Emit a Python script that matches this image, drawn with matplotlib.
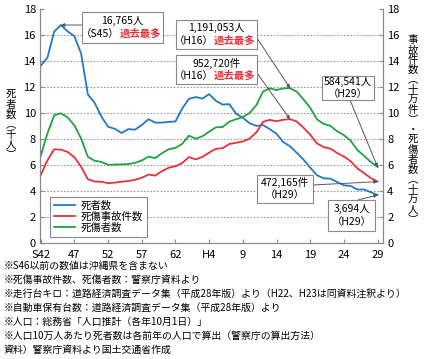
import matplotlib
matplotlib.use("Agg")
import matplotlib.pyplot as plt
from matplotlib.patches import Rectangle

plt.rcParams['font.family'] = ['Noto Sans CJK JP', 'DejaVu Sans']

# data (S42=1967 .. H29=2017)
years = list(range(1967, 2018))
deaths = [13618, 14256, 16257, 16765, 16278, 15918, 14574, 11432, 10792, 9734,
          8945, 8783, 8466, 8760, 8719, 9073, 9520, 9262, 9261, 9317,
          9347, 10344, 11086, 11227, 11109, 11452, 10942, 10649, 10684, 9942,
          9640, 9211, 9006, 9073, 8757, 8396, 7768, 7436, 6937, 6415,
          5796, 5209, 4979, 4948, 4691, 4438, 4388, 4113, 4117, 3904, 3694]
accidents = [521481, 635056, 720880, 718080, 700290, 659283, 586713, 490452, 472938, 471041,
             460649, 464037, 471573, 476677, 485578, 502261, 526362, 518642, 552788, 579190,
             590723, 614481, 661363, 643097, 662392, 695345, 724678, 729461, 761794, 771085,
             780401, 803878, 850371, 931950, 947253, 936950, 948281, 952720, 934346, 887267,
             832704, 766394, 737637, 725924, 692084, 665157, 629033, 573842, 536899, 499201, 472165]
casualties = [668995, 842327, 983257, 997861, 965967, 905116, 804522, 662852, 633259, 623691,
              602156, 602899, 604748, 607479, 616065, 635265, 664342, 653583, 690607, 721647,
              731526, 763189, 825918, 801522, 821354, 855455, 889575, 892372, 933361, 952146,
              968565, 999886, 1059405, 1164770, 1189796, 1176425, 1189449, 1191053, 1164050, 1104979,
              1040448, 950912, 916194, 901245, 859304, 829834, 785880, 715487, 670140, 622757, 584541]

tick_years = [1967, 1972, 1977, 1982, 1987, 1992, 1997, 2002, 2007, 2012, 2017]
tick_labels = ["S42", "47", "52", "57", "62", "H4", "9", "14", "19", "24", "29"]

notes = [
    "※S46以前の数値は沖縄県を含まない",
    "※死傷事故件数、死傷者数：警察庁資料より",
    "※走行台キロ：道路経済調査データ集（平成28年版）より（H22、H23は同資料注釈より）",
    "※自動車保有台数：道路経済調査データ集（平成28年版）より",
    "※人口：総務省「人口推計（各年10月1日）」",
    "※人口10万人あたり死者数は各前年の人口で算出（警察庁の算出方法）",
    "資料）警察庁資料より国土交通省作成",
]

BLUE = "#2378c3"
RED = "#e8303a"
GREEN = "#1fa33f"
GRAY = "#888888"

W, H = 424, 359
fig = plt.figure(figsize=(W / 100, H / 100), dpi=100)


def fx(px):
    return px / W


def fy(py):
    return 1 - py / H


ax = fig.add_axes([fx(40), fy(243), (383 - 40) / W, (243 - 9) / H])
ax2 = ax.twinx()

ax.plot(years, [d / 1000 for d in deaths], color=BLUE, lw=1.3, label="死者数")
ax2.plot(years, [a / 100000 for a in accidents], color=RED, lw=1.3, label="死傷事故件数")
ax2.plot(years, [c / 100000 for c in casualties], color=GREEN, lw=1.3, label="死傷者数")

for a in (ax, ax2):
    a.set_ylim(0, 18)
    a.set_yticks(range(0, 19, 2))
    a.set_xlim(1966.9, 2017.8)
    a.spines['top'].set_visible(False)
    for s in ('left', 'right', 'bottom'):
        a.spines[s].set_color(GRAY)
        a.spines[s].set_linewidth(0.8)
    a.tick_params(axis='both', direction='in', length=3, color=GRAY, labelsize=8, pad=3)
ax.tick_params(axis='x', pad=5)

for yv in range(2, 17, 2):
    ax.axhline(yv, color="#999999", lw=0.8, ls=(0, (1.5, 1.5)), zorder=0)

ax.set_xticks(tick_years)
ax.set_xticklabels(tick_labels)

h1, l1 = ax.get_legend_handles_labels()
h2, l2 = ax2.get_legend_handles_labels()
leg = ax2.legend(h1 + h2, l1 + l2, loc='lower left', bbox_to_anchor=(0.015, 0.005),
                 fontsize=7.5, fancybox=False, framealpha=1, edgecolor=GRAY,
                 handlelength=2.0, handletextpad=0.6, borderpad=0.35, labelspacing=0.1)
leg.get_frame().set_linewidth(0.8)

# vertical axis titles
fig.text(fx(11), fy(125), "\n".join("死者数︵千人︶"), ha='center', va='center',
         fontsize=7.5, linespacing=1.0)
fig.text(fx(413), fy(130), "\n".join("事故件数︵十万件︶・死傷者数︵十万人︶"), ha='center',
         va='center', fontsize=7.5, linespacing=1.0)


def box(x0, y0, x1, y1, line1, line2, red=True):
    fig.patches.append(Rectangle((fx(x0), fy(y1)), (x1 - x0) / W, (y1 - y0) / H,
                                 transform=fig.transFigure, facecolor='white',
                                 edgecolor=GRAY, lw=0.8, zorder=5))
    cx = (x0 + x1) / 2
    ym = (y0 + y1) / 2
    fig.text(fx(cx), fy(ym - 6.5), line1, ha='center', va='center', fontsize=7.5, zorder=6)
    if red:
        fig.text(fx(cx - 3), fy(ym + 6.5), "（" + line2 + "）", ha='right', va='center',
                 fontsize=7.5, zorder=6)
        fig.text(fx(cx - 3), fy(ym + 6.5), "過去最多", ha='left', va='center',
                 fontsize=7.5, color=RED, fontweight='bold', zorder=6)
    else:
        fig.text(fx(cx), fy(ym + 6), "（" + line2 + "）", ha='center', va='center',
                 fontsize=7.5, zorder=6)


def pointer(a, x, y, px, py):
    a.annotate("", xy=(x, y), xytext=(px, H - py), textcoords='figure pixels',
               arrowprops=dict(arrowstyle='-|>', color='#555555', lw=0.7,
                               mutation_scale=5, shrinkA=0, shrinkB=0), zorder=4)


i70 = years.index(1970)
i04 = years.index(2004)
i17 = years.index(2017)

pointer(ax, 1970, deaths[i70] / 1000, 82, 25)
pointer(ax2, 2004, casualties[i04] / 100000, 257, 38)
pointer(ax2, 2004, accidents[i04] / 100000, 257, 73)
pointer(ax2, 2017, casualties[i17] / 100000, 350, 100)
pointer(ax2, 2017, accidents[i17] / 100000, 313, 185)
pointer(ax, 2017, deaths[i17] / 1000, 358, 200)

box(82, 12, 163, 43, "16,765人", "S45")
box(176, 20, 257, 49, "1,191,053人", "H16")
box(176, 55, 257, 84, "952,720件", "H16")
box(322, 76, 374, 100, "584,541人", "H29", red=False)
box(257, 175, 313, 203, "472,165件", "H29", red=False)
box(328, 200, 375, 231, "3,694人", "H29", red=False)

for k, t in enumerate(notes):
    fig.text(fx(4), fy(266 + 14 * k), t, ha='left', va='center', fontsize=7.1)

fig.savefig("out.png", dpi=100)
